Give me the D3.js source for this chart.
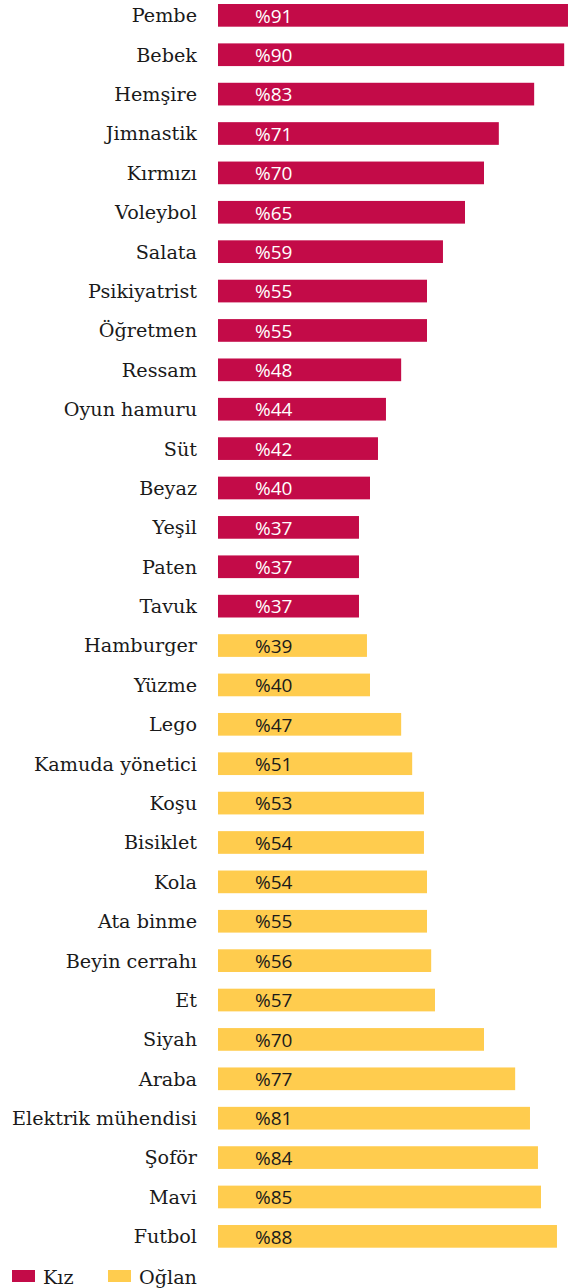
<!DOCTYPE html>
<html>
<head>
<meta charset="utf-8">
<script src="https://cdn.jsdelivr.net/npm/d3@7"></script>
<style>
  body { margin: 0; background: #fff; }
  svg { display: block; }
  .cat { font-family: "DejaVu Serif", serif; font-size: 19.2px; fill: #1a1a1a; }
  .val { font-family: "Open Sans", sans-serif; font-size: 19px; }
  .leg { font-family: "DejaVu Serif", serif; font-size: 19.2px; fill: #1a1a1a; }
</style>
</head>
<body>
<div id="chart"></div>
<script>
const categories = ["Pembe","Bebek","Hemşire","Jimnastik","Kırmızı","Voleybol","Salata","Psikiyatrist","Öğretmen","Ressam","Oyun hamuru","Süt","Beyaz","Yeşil","Paten","Tavuk",
  "Hamburger","Yüzme","Lego","Kamuda yönetici","Koşu","Bisiklet","Kola","Ata binme","Beyin cerrahı","Et","Siyah","Araba","Elektrik mühendisi","Şoför","Mavi","Futbol"];
// printed percentages
const valueLabels = ["%91","%90","%83","%71","%70","%65","%59","%55","%55","%48","%44","%42","%40","%37","%37","%37",
  "%39","%40","%47","%51","%53","%54","%54","%55","%56","%57","%70","%77","%81","%84","%85","%88"];
// bar lengths (unrounded shares)
const values = [92.1,91.1,83.2,73.9,70.0,65.0,59.2,55.0,55.0,48.2,44.2,42.1,40.0,37.1,37.1,37.1,
  39.2,40.0,48.2,51.1,54.2,54.2,55.0,55.0,56.1,57.1,70.0,78.2,82.1,84.2,85.0,89.2];
const groups = ["Kız","Kız","Kız","Kız","Kız","Kız","Kız","Kız","Kız","Kız","Kız","Kız","Kız","Kız","Kız","Kız",
  "Oğlan","Oğlan","Oğlan","Oğlan","Oğlan","Oğlan","Oğlan","Oğlan","Oğlan","Oğlan","Oğlan","Oğlan","Oğlan","Oğlan","Oğlan","Oğlan"];
const legendLabels = ["Kız","Oğlan"];
const colors = {"Kız": "#c30b48", "Oğlan": "#ffcc4e"};
const textColors = {"Kız": "#ffffff", "Oğlan": "#1a1a1a"};

const width = 576, height = 1288;
const svg = d3.select('#chart').append('svg').attr('width', width).attr('height', height);

const x = d3.scaleLinear().domain([0, 100]).range([218, 598]);
const y = d3.scaleBand().domain(categories).range([4, 1247.7]).paddingInner(0.424).paddingOuter(0);

const rows = svg.selectAll('g.row').data(categories).enter().append('g').attr('class', 'row');

rows.append('rect')
  .attr('x', x(0))
  .attr('y', d => y(d))
  .attr('width', (d, i) => x(values[i]) - x(0))
  .attr('height', y.bandwidth())
  .attr('fill', (d, i) => colors[groups[i]]);

rows.append('text')
  .attr('class', 'cat')
  .attr('x', 197)
  .attr('y', d => y(d) + y.bandwidth() / 2)
  .attr('dy', '0.36em')
  .attr('text-anchor', 'end')
  .text(d => d);

rows.append('text')
  .attr('class', 'val')
  .attr('x', 255)
  .attr('y', d => y(d) + y.bandwidth() / 2)
  .attr('dy', '0.38em')
  .attr('fill', (d, i) => textColors[groups[i]])
  .text((d, i) => valueLabels[i]);

const leg = svg.selectAll('g.leg').data(legendLabels).enter().append('g')
  .attr('transform', (d, i) => 'translate(' + (12 + i * 96) + ',1270)');
leg.append('rect').attr('width', 23).attr('height', 12).attr('fill', d => colors[d]);
leg.append('text').attr('class', 'leg').attr('x', 31).attr('y', 6).attr('dy', '0.4em').text(d => d);
</script>
</body>
</html>
